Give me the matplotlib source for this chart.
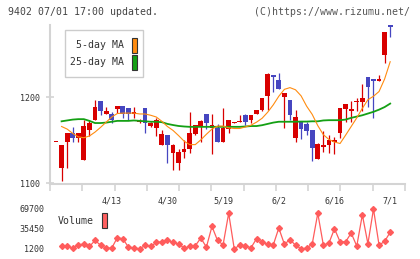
import numpy as np
import matplotlib
matplotlib.use('Agg')
import matplotlib.pyplot as plt
from matplotlib.patches import Rectangle

nan = np.nan

# daily prices (first entry is a partial day with no volume / MA)
opens = [1147.5, 1118, 1148, 1158, 1153, 1127.5, 1162.5, 1173.5, 1195.5, 1180,
         1180.5, 1186.5, 1189.5, 1187, 1180, 1171.5, 1187, 1167, 1164.5, 1144.5,
         1156, 1135.5, 1124, 1136.5, 1139.5, 1157, 1166.5, 1180.5, 1164.5, 1164.5,
         1148, 1163.5, 1169.5, 1171, 1179, 1173.5, 1180.5, 1185.5, 1201.5, 1225.5,
         1219.5, 1200.5, 1196.5, 1153, 1171, 1168.5, 1162, 1128, 1142.5, 1144.5,
         1148, 1158.5, 1186, 1184, 1194, 1194.5, 1223, 1221.5, 1218.5, 1249, 1283.5]
highs = [1148.5, 1144.5, 1158, 1165.5, 1158, 1173, 1173, 1196.5, 1195.5, 1189,
         1183, 1189.5, 1189.5, 1187, 1189, 1175, 1187, 1171.5, 1176, 1162,
         1156, 1146, 1140.5, 1150, 1183, 1167.5, 1174, 1180.5, 1181, 1168.5,
         1187.5, 1173.5, 1171.5, 1179, 1181, 1179.5, 1185.5, 1199, 1227.5, 1225.5,
         1227.5, 1205, 1196.5, 1185, 1171, 1171.5, 1162, 1147, 1160.5, 1156,
         1153.5, 1187.5, 1192, 1195.5, 1198.5, 1215, 1223, 1221.5, 1225.5, 1275.5, 1283.5]
lows = [1147.5, 1103, 1118, 1147.5, 1147.5, 1127.5, 1155, 1173.5, 1179, 1180,
        1170, 1182, 1176, 1174, 1175.5, 1170, 1158.5, 1165.5, 1155, 1144.5,
        1124, 1115.5, 1115.5, 1129, 1135.5, 1156, 1148, 1163.5, 1134, 1148,
        1148, 1158.5, 1169.5, 1171, 1167.5, 1170, 1180.5, 1184, 1185.5, 1206,
        1209.5, 1164.5, 1174, 1148, 1151.5, 1156, 1126, 1128, 1136.5, 1135,
        1134, 1153, 1171.5, 1171.5, 1184, 1184, 1189, 1176, 1218.5, 1239, 1270]
closes = [1148.5, 1144.5, 1158, 1153, 1158, 1166.5, 1170, 1189, 1184, 1184,
          1173.5, 1189.5, 1180, 1180, 1182.5, 1172.5, 1169.5, 1170, 1174, 1157,
          1144.5, 1144.5, 1136, 1139.5, 1158, 1167.5, 1172.5, 1169.5, 1167.5, 1148,
          1164.5, 1173.5, 1171.5, 1172, 1171.5, 1179, 1185.5, 1199, 1226.5, 1223,
          1209.5, 1205, 1179.5, 1177, 1163.5, 1160.5, 1141.5, 1145.5, 1144.5, 1150,
          1150, 1187.5, 1192, 1186, 1195.5, 1199, 1212, 1219, 1221.5, 1275.5, 1281.5]
volumes = [nan, 6400, 5200, 2900, 8100, 9300, 5200, 15500, 7600, 2400,
           2400, 20200, 18500, 4100, 2900, 1200, 6900, 5200, 12100, 13300,
           15500, 12100, 9800, 2400, 5200, 6400, 19700, 4100, 39700, 15500,
           8100, 62400, 1200, 7600, 6400, 2900, 18500, 12800, 9300, 7600,
           36900, 9300, 16700, 7600, 1200, 2400, 9300, 62400, 7600, 11000,
           35700, 13300, 13300, 28300, 5900, 59700, 9800, 69700, 7600, 13900, 29800]
ma5 = [nan, 1166, 1163, 1158, 1154, 1153, 1155, 1159.5, 1165, 1171,
       1177, 1181, 1181.5, 1181.5, 1181.5, 1180.5, 1180.5, 1179, 1177, 1172,
       1166, 1161.5, 1155.5, 1149, 1145, 1145, 1150.5, 1157, 1163, 1166.5,
       1166.5, 1164.5, 1163.7, 1163.7, 1165.5, 1167.5, 1171, 1175.5, 1182.5, 1191,
       1201, 1209, 1211, 1208.5, 1201.5, 1189.5, 1180, 1167, 1156.5, 1151,
       1148, 1146.3, 1156, 1166, 1176, 1187, 1197, 1201, 1206.5, 1221, 1241]
ma25 = [nan, 1172, 1173, 1174, 1174.5, 1174.5, 1172.5, 1170, 1170, 1170.5,
        1171.5, 1172.5, 1172.5, 1172.5, 1173, 1172.5, 1172, 1171.5, 1171.5, 1171,
        1169, 1167.7, 1166.6, 1166, 1165.6, 1165.6, 1165.6, 1165.6, 1165.6, 1165.6,
        1165.6, 1165.6, 1165.6, 1165.6, 1166, 1166.5, 1166.5, 1167.5, 1169, 1170.5,
        1171.5, 1171.5, 1171.5, 1171.5, 1171.7, 1171.7, 1172, 1172, 1173, 1173.3,
        1173.3, 1173.3, 1174, 1176, 1177.5, 1179, 1181, 1183, 1185.5, 1188.5, 1192.5]
date_idx = [10, 20, 30, 40, 50, 60]
date_labels = ['4/13', '4/30', '5/19', '6/2', '6/16', '7/1']
vol_ticks = [1200, 35450, 69700]

W, H = 420, 259
mono = 'DejaVu Sans Mono'
red = '#d80000'
blue = '#4646c0'
grey = '#d4d4d4'
txt = '#333333'


def box(l, t, r, b):
    return [l / W, 1 - b / H, (r - l) / W, (b - t) / H]


fig = plt.figure(figsize=(W / 100, H / 100), dpi=100)
fig.patch.set_facecolor('white')

ax = fig.add_axes(box(50, 25, 405, 183.5))
vax = fig.add_axes(box(50, 209, 405, 248.8))

o = np.array(opens)
c = np.array(closes)
x = np.arange(len(o))
cols = [red if cc >= oo else blue for oo, cc in zip(o, c)]
lo = np.minimum(o, c)
hgt = np.maximum(np.abs(c - o), 1.3)

ax.vlines(x, lows, highs, colors=cols, lw=0.9, zorder=2)
ax.bar(x, hgt, bottom=lo, width=0.85, color=cols, lw=0, zorder=3)
ax.plot(x, ma25, color='#14a014', lw=1.3, zorder=4)
ax.plot(x, ma5, color='#ff8c10', lw=0.8, zorder=5)

x0, x1 = -1.08, 62.66
ax.set_xlim(x0, x1)
ax.set_ylim(1100, 1283.5)
for s in ['top', 'right']:
    ax.spines[s].set_visible(False)
for s in ['left', 'bottom']:
    ax.spines[s].set_color(grey)
    ax.spines[s].set_linewidth(1.5)

ax.set_yticks([1100, 1200])
ax.set_yticklabels(['1100', '1200'], family=mono, fontsize=6, color=txt)
ax.tick_params(axis='y', direction='inout', length=6, width=1.2, color=grey, pad=4)
ax.set_xticks(date_idx)
ax.set_xticklabels(date_labels, family=mono, fontsize=6, color=txt)
ax.set_xticks(np.linspace(x0, x1, 12), minor=True)
ax.tick_params(axis='x', which='major', length=0, pad=9)
ax.tick_params(axis='x', which='minor', direction='out', length=5, width=1.2, color=grey)

# volume panel
vax.plot(x, volumes, color='#ff5c5c', lw=0.9, marker='D', ms=3, clip_on=False)
vax.set_xlim(x0, x1)
vax.set_ylim(1200, 69700)
for s in vax.spines.values():
    s.set_visible(False)
vax.set_xticks([])
vax.set_yticks(vol_ticks)
vax.set_yticklabels([str(v) for v in vol_ticks], family=mono, fontsize=6, color=txt)
vax.tick_params(axis='y', length=0, pad=4)

# header texts
fig.text(8 / W, 1 - 12 / H, '9402 07/01 17:00 updated.', family=mono, fontsize=7.1,
         color='#444444', va='center')
fig.text(410 / W, 1 - 12 / H, '(C)https://www.rizumu.net/', family=mono, fontsize=7.1,
         color='#555555', va='center', ha='right')

# legend box
fig.add_artist(Rectangle((65 / W, 1 - 77 / H), 78 / W, 47 / H, transform=fig.transFigure,
                         facecolor='white', edgecolor='#cccccc', lw=1, zorder=10))
fig.text(124 / W, 1 - 45.5 / H, '5-day MA', family=mono, fontsize=7.1, color=txt,
         ha='right', va='center', zorder=11)
fig.text(124 / W, 1 - 62 / H, '25-day MA', family=mono, fontsize=7.1, color=txt,
         ha='right', va='center', zorder=11)
fig.add_artist(Rectangle((131.5 / W, 1 - 52.5 / H), 5.5 / W, 15 / H, transform=fig.transFigure,
                         facecolor='#ff8c10', edgecolor='#333333', lw=0.8, zorder=11))
fig.add_artist(Rectangle((131.5 / W, 1 - 69.5 / H), 5.5 / W, 15 / H, transform=fig.transFigure,
                         facecolor='#14a014', edgecolor='#333333', lw=0.8, zorder=11))

fig.text(58 / W, 1 - 221.5 / H, 'Volume', family=mono, fontsize=7.1, color=txt, va='center')
fig.add_artist(Rectangle((101.5 / W, 1 - 228 / H), 5.5 / W, 15 / H, transform=fig.transFigure,
                         facecolor='#ff6060', edgecolor='#333333', lw=0.8, zorder=11))

fig.savefig('out.png', dpi=100)
